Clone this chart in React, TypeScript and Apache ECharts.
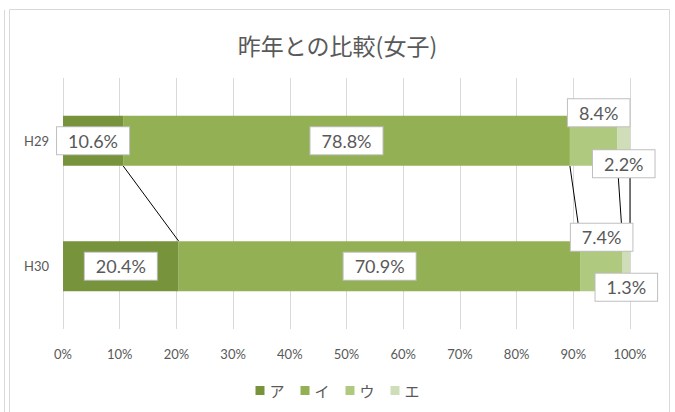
import React, { useEffect, useRef } from "react";
import * as echarts from "echarts";

const categories = ["H29", "H30"];
const seriesNames = ["ア", "イ", "ウ", "エ"];
const valA = [10.6, 20.4];
const valI = [78.8, 70.9];
const valU = [8.4, 7.4];
const valE = [2.2, 1.3];
const xTicks = [0, 10, 20, 30, 40, 50, 60, 70, 80, 90, 100];
const colors = ["#77933C", "#93B154", "#AFC97F", "#CFDDB8"];

const labelOffsets: Record<string, number[][]> = {
  "ウ": [[5, -28], [0, -29]],
  "エ": [[0, 23], [0, 21]],
};

export default function App() {
  const ref = useRef<HTMLDivElement>(null);
  useEffect(() => {
    document.body.style.margin = "0";
    const chart = echarts.init(ref.current!, null, { renderer: "svg" });
    const all = [valA, valI, valU, valE];
    const cum: number[][] = categories.map((_, ci) => {
      let s = 0;
      return all.map((arr) => (s += arr[ci]));
    });
    const lineData = all.map((_, si) => [cum[0][si], cum[1][si]]);
    const fontNum = "Lato, 'Noto Sans', sans-serif";
    const bars = all.map((arr, si) => ({
      name: seriesNames[si],
      type: "bar",
      stack: "total",
      barWidth: "40%",
      z: 3,
      itemStyle: { color: colors[si] },
      data: arr.map((v, ci) => {
        const off = labelOffsets[seriesNames[si]];
        return off ? { value: v, label: { offset: off[ci] } } : v;
      }),
      label: {
        show: true,
        position: "inside",
        formatter: (p: any) => p.value.toFixed(1) + "%",
        color: "#595959",
        fontSize: 18,
        fontFamily: fontNum,
        backgroundColor: "#FFFFFF",
        borderColor: "#BFBFBF",
        borderWidth: 1,
        padding: [5, 11, 4, 11],
      },
    }));
    chart.setOption({
      animation: false,
      title: {
        text: "昨年との比較(女子)",
        left: "center",
        top: 28,
        textStyle: {
          fontSize: 23,
          fontWeight: "normal",
          color: "#595959",
          fontFamily: "'Noto Sans CJK JP', sans-serif",
        },
      },
      legend: {
        bottom: 9,
        left: "center",
        itemWidth: 9,
        itemHeight: 9,
        itemGap: 16,
        icon: "rect",
        data: seriesNames,
        textStyle: {
          fontSize: 15,
          color: "#595959",
          fontFamily: "'Noto Sans CJK JP', sans-serif",
        },
      },
      grid: { left: 63, right: 45, top: 78, bottom: 83 },
      xAxis: {
        type: "value",
        min: xTicks[0],
        max: xTicks[xTicks.length - 1],
        interval: 10,
        axisLine: { show: false },
        axisTick: { show: false },
        axisLabel: {
          formatter: "{value}%",
          color: "#595959",
          fontSize: 13,
          fontFamily: fontNum,
          margin: 18,
        },
        splitLine: { lineStyle: { color: "#D9D9D9", width: 1 } },
      },
      yAxis: {
        type: "category",
        inverse: true,
        data: categories,
        axisLine: { show: false },
        axisTick: { show: false },
        axisLabel: {
          color: "#595959",
          fontSize: 13,
          fontFamily: fontNum,
          margin: 14,
        },
      },
      graphic: [
        {
          type: "rect",
          shape: { x: 9.5, y: 9.5, width: 660, height: 430 },
          style: { fill: "none", stroke: "#D9D9D9", lineWidth: 1 },
          silent: true,
        },
        {
          type: "line",
          shape: { x1: 4.5, y1: 10, x2: 4.5, y2: 412 },
          style: { stroke: "#D9D9D9", lineWidth: 1 },
          silent: true,
        },
      ],
      series: [
        {
          type: "custom",
          z: 1,
          silent: true,
          data: lineData,
          encode: { x: [0, 1] },
          renderItem: (params: any, api: any) => {
            const v1 = api.value(0);
            const v2 = api.value(1);
            const p1 = api.coord([v1, 0]);
            const p2 = api.coord([v2, 1]);
            const half = api.size([0, 1])[1] * 0.2;
            return {
              type: "line",
              shape: { x1: p1[0], y1: p1[1] + half, x2: p2[0], y2: p2[1] - half },
              style: { stroke: "#000000", lineWidth: 1 },
            };
          },
        },
        ...bars,
      ],
    });
    return () => chart.dispose();
  }, []);
  return <div ref={ref} style={{ width: 675, height: 412 }} />;
}
